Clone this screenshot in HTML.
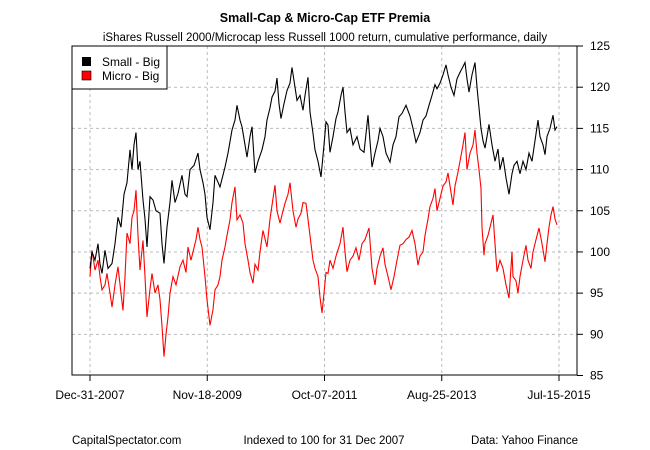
<!DOCTYPE html>
<html><head><meta charset="utf-8"><style>
body{margin:0;background:#fff}
svg{display:block;font-family:"Liberation Sans",Arial,sans-serif}
</style></head><body>
<svg id="chart" width="650" height="450" viewBox="0 0 650 450">
<rect width="650" height="450" fill="#fff"/>
<text x="325" y="22" text-anchor="middle" font-size="12.5" font-weight="bold">Small-Cap &amp; Micro-Cap ETF Premia</text>
<text x="325" y="41" text-anchor="middle" font-size="11.5">iShares Russell 2000/Microcap less Russell 1000 return, cumulative performance, daily</text>
<g id="grid"></g>
<g id="series"></g>
<rect x="72" y="46" width="505" height="329" fill="none" stroke="#000"/>
<g id="axes"></g>
<g>
<rect x="72" y="46" width="95" height="43" fill="#fff" stroke="#000"/>
<rect x="82" y="57" width="9" height="9" fill="#000"/>
<text x="102" y="66" font-size="12">Small - Big</text>
<rect x="82" y="71" width="9" height="9" fill="#f00" stroke="#000" stroke-width="0.6"/>
<text x="102" y="80" font-size="12">Micro - Big</text>
</g>
<text x="72" y="444" font-size="11.5">CapitalSpectator.com</text>
<text x="324" y="444" text-anchor="middle" font-size="11.5">Indexed to 100 for 31 Dec 2007</text>
<text x="578" y="444" text-anchor="end" font-size="11.5">Data: Yahoo Finance</text>
</svg>
<script>
const xTickPos=[0,117.25,234.5,351.75,469];
const xTickLabels=["Dec-31-2007","Nov-18-2009","Oct-07-2011","Aug-25-2013","Jul-15-2015"];
const yTicks=[85,90,95,100,105,110,115,120,125];
const smallIdx=[0,2,5,8,10,12,15,18,22,25,28,31,34,37,40,42,44,46,48,50,53,55,57,60,63,66,70,72,74,77,80,82,85,88,92,95,97,100,104,108,110,113,115,117,120,123,125,130,135,138,142,145,147,150,152,155,157,160,162,165,168,172,175,177,180,182,185,187,189,191,194,197,200,202,205,207,210,213,215,218,220,223,225,228,231,234,236,238,240,243,246,248,251,253,255,257,260,263,267,270,274,278,282,285,288,290,293,296,300,303,306,309,312,316,320,323,326,330,333,336,339,342,345,347,350,353,356,358,361,364,367,370,373,375,377,379,382,385,387,389,391,393,395,397,399,402,405,408,410,413,416,419,422,424,427,430,433,436,439,442,445,448,450,453,455,457,460,463,465,467,469];
const smallVals=[98,100,99,101,98.5,97.4,100.2,98,98.6,101,104.2,103,107,108.4,112.4,110,113,114.5,110,111,106.3,104,100.6,106.7,106.3,105,104.7,101,98.6,103,106,108.7,106,107.1,109.3,107,106.7,110,110.5,112,110,108.4,107,104.2,102.7,106,109.3,107.9,110.3,112,114.8,116,117.8,116,115.2,113,111.5,114,115.2,109.6,111,112.4,114,116,117.5,118.8,119.5,121.1,118,116.2,118,119.6,120.5,122.4,120,118.4,119,117.2,119,121.2,117,114.4,112.4,111,109.1,113,115.8,115.4,112.1,114,116.2,117,119,120,117,114.5,115,113,114,112.5,112.1,116.6,110.3,112,113.5,115,114,112,110.9,113,114,116.4,116.8,117.8,116.5,115,113.3,114.5,116,116.5,117.8,119,120.3,119.8,120.5,121.5,122.7,121.5,120,119,121,121.8,122.5,123,121,119.4,121.5,123,120,117.5,115,113.5,112.6,114,115.5,113,111,112.5,110,111.5,109,107,109.5,110.5,111,109.5,111,110,112,111,113.5,116,114,113,111.8,114,115,116.6,114.8,115.2];
const microIdx=[0,2,5,8,10,12,15,17,20,22,25,28,31,33,35,37,40,42,44,46,48,50,53,55,57,60,62,65,68,70,72,74,76,78,80,83,86,90,93,96,98,101,103,106,108,110,112,115,117,120,123,125,128,130,132,135,137,140,142,145,147,150,153,155,158,160,163,165,168,170,173,177,180,183,185,187,190,192,195,198,200,203,206,208,211,213,216,220,223,225,228,230,232,234,236,238,240,243,246,250,253,255,257,260,263,266,269,272,275,279,282,285,287,290,293,295,298,301,304,307,310,313,316,319,322,325,328,330,333,335,338,340,343,345,347,350,353,356,358,360,363,365,368,370,373,375,377,380,383,385,387,389,391,392,394,395,398,401,403,405,407,410,413,416,419,422,423,426,428,430,433,436,438,441,443,446,449,452,455,457,459,461,463,465,467,469];
const microVals=[97,100.2,97.8,99,97,95.4,96,97.4,95,93.3,96,98.2,95,92.9,97,102.3,101,104.2,105,107.5,102,97.8,101.4,97,92.1,95.5,97.4,95,96,94.2,91,87.3,90,92.1,95,97,96,98.2,99,97.5,100.6,99,100,101.5,103,101.5,100.6,97,94.2,91.1,93,95.4,96,97,99,100.6,102,103.9,106,107.9,103.9,104.5,103.5,101,99,97.5,96.2,98.5,97.8,100,102.6,100.6,104,106.5,108.1,105,103.5,104.5,105.9,107,108.4,105,103,104,104.7,106,105.9,102,99,98,97,94.5,92.6,95,97.5,97.4,99,98,99.5,101,103,100,97.6,99,99.5,100.5,99,101,101.5,102.9,98,96,98,99.5,100.5,98.5,97,95.4,97,99,100.8,101,101.5,101.8,102.6,101,98.4,99.5,100,102,104,105.5,106.5,107.7,105,106.5,108,108.5,109.6,108,105.7,108,109.7,111,113,114.5,110,112,113,114.8,112,110,107.7,103,99.6,101,102,103.5,104.5,101,97.6,99,98,96,94.4,100,97,96.5,95,97,99,100.8,99,98,100,101.5,102.9,101,98.8,101,103,104.5,105.5,104,103.3];

const NS='http://www.w3.org/2000/svg';
const PL=72,PR=577,PT=46,PB=375,X0=90,X1=559;
function xScale(i){return X0+(i-xTickPos[0])/(xTickPos[xTickPos.length-1]-xTickPos[0])*(X1-X0);}
function yScale(v){return 375.5-(v-85)/(125-85)*(375.5-46);}
function mk(tag,attrs,parent){const e=document.createElementNS(NS,tag);for(const k in attrs)e.setAttribute(k,attrs[k]);parent.appendChild(e);return e;}
const grid=document.getElementById('grid'),axes=document.getElementById('axes'),series=document.getElementById('series');
yTicks.forEach((v,i)=>{
  const y=yScale(v);
  if(v>85&&v<125){const g=mk('line',{x1:PL,x2:PR,y1:y,y2:y,stroke:'#bbb','stroke-dasharray':'3,3'},grid);
  
  }
  const t=mk('line',{x1:PR,x2:PR+6,y1:y,y2:y,stroke:'#000'},axes);
  
  
  const l=mk('text',{x:PR+13,y:y+4,'font-size':'12'},axes);l.textContent=v;
  
  
});
xTickPos.forEach((p,i)=>{
  const x=xScale(p);
  const g=mk('line',{x1:x,x2:x,y1:PT,y2:PB,stroke:'#bbb','stroke-dasharray':'3,3'},grid);
  
  
  const t=mk('line',{x1:x,x2:x,y1:PB,y2:PB+6,stroke:'#000'},axes);
  
  
  const l=mk('text',{x:x,y:PB+24,'font-size':'12','text-anchor':'middle'},axes);l.textContent=xTickLabels[i];
  
  
});
function draw(idx,vals,color,name){
  const pts=idx.map((d,i)=>xScale(d).toFixed(1)+','+yScale(vals[i]).toFixed(1)).join(' ');
  const p=mk('polyline',{points:pts,fill:'none',stroke:color,'stroke-width':'1.1','stroke-linejoin':'miter'},series);
  
  
}
draw(microIdx,microVals,'#f00','micro-big-line');
draw(smallIdx,smallVals,'#000','small-big-line');
</script>
</body></html>
